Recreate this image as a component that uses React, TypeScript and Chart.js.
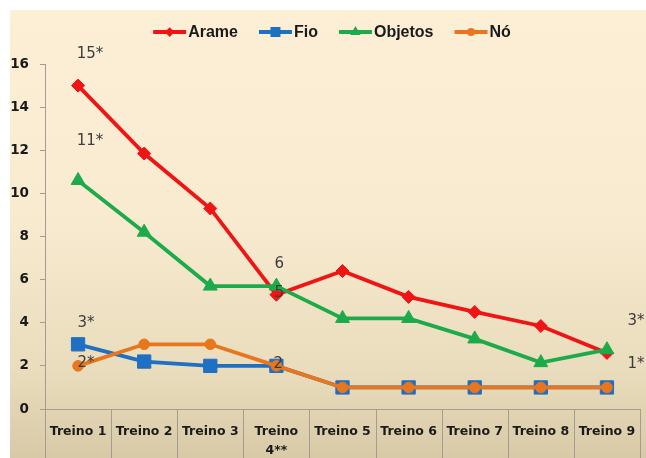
import React, { useEffect, useRef } from "react";
import { Chart, registerables } from "chart.js";

Chart.register(...registerables);

const categories = ["Treino 1", "Treino 2", "Treino 3", "Treino 4**", "Treino 5", "Treino 6", "Treino 7", "Treino 8", "Treino 9"];
const seriesNames = ["Arame", "Fio", "Objetos", "Nó"];
const arame = [15, 11.85, 9.3, 5.3, 6.4, 5.2, 4.5, 3.85, 2.6];
const fio = [3, 2.2, 2, 2, 1, 1, 1, 1, 1];
const objetos = [10.6, 8.2, 5.7, 5.7, 4.2, 4.2, 3.25, 2.15, 2.75];
const no = [2, 3, 3, 2, 1, 1, 1, 1, 1];
const yTicks = [0, 2, 4, 6, 8, 10, 12, 14, 16];

// annotation texts attached to points: [text, seriesIndex, categoryIndex]
const annotationTexts: [string, number, number][] = [
  ["15*", 0, 0],
  ["11*", 2, 0],
  ["3*", 1, 0],
  ["2*", 3, 0],
  ["6", 2, 3],
  ["5", 0, 3],
  ["2", 1, 3],
  ["3*", 2, 8],
  ["1*", 1, 8],
];
// pixel offsets of each annotation from its point (layout only)
const annotationOffsets: [number, number][] = [
  [12, -31],
  [12, -39],
  [8, -21],
  [8, -3],
  [3, -22],
  [3, -2],
  [2, -2],
  [29, -29],
  [29, -23],
];

const colors = ["#F01414", "#1F6FC2", "#1DAA4A", "#E8761E"];
const pointStyles = ["rectRot", "rect", "triangle", "circle"];
const pointRadii = [6.5, 9.4, 8, 5.3];
const drawOrder = [3, 2, 1, 0];

function drawMarker(ctx: CanvasRenderingContext2D, style: string, x: number, y: number, r: number, color: string) {
  ctx.save();
  ctx.fillStyle = color;
  ctx.beginPath();
  if (style === "rectRot") {
    ctx.moveTo(x - r, y);
    ctx.lineTo(x, y - r);
    ctx.lineTo(x + r, y);
    ctx.lineTo(x, y + r);
    ctx.closePath();
  } else if (style === "rect") {
    const s = r * Math.SQRT1_2;
    ctx.rect(x - s, y - s, 2 * s, 2 * s);
  } else if (style === "triangle") {
    ctx.moveTo(x, y - r);
    ctx.lineTo(x + r * 0.866, y + r * 0.5);
    ctx.lineTo(x - r * 0.866, y + r * 0.5);
    ctx.closePath();
  } else {
    ctx.arc(x, y, r, 0, Math.PI * 2);
  }
  ctx.fill();
  ctx.restore();
}

const decorPlugin = {
  id: "decor",
  beforeDraw(chart: any) {
    const { ctx, width, height } = chart;
    ctx.save();
    ctx.fillStyle = "#FFFFFF";
    ctx.fillRect(0, 0, width, height);
    const g = ctx.createLinearGradient(0, 10, 0, height);
    g.addColorStop(0, "#FDEFD6");
    g.addColorStop(0.45, "#F8EBD0");
    g.addColorStop(0.8, "#EADDBD");
    g.addColorStop(1, "#D8CAA7");
    ctx.fillStyle = g;
    ctx.fillRect(10, 10, width - 10, height - 10);
    ctx.restore();
  },
  afterDraw(chart: any) {
    const { ctx, chartArea, height } = chart;
    const xs = chart.scales.x;
    ctx.save();
    ctx.strokeStyle = "#A39D91";
    ctx.lineWidth = 1;
    ctx.beginPath();
    ctx.moveTo(chartArea.left, Math.round(chartArea.bottom) + 0.5);
    ctx.lineTo(chartArea.right, Math.round(chartArea.bottom) + 0.5);
    for (let i = 0; i <= categories.length; i++) {
      const px = Math.round(xs.getPixelForValue(i - 0.5)) + 0.5;
      ctx.moveTo(px, chartArea.bottom);
      ctx.lineTo(px, height);
    }
    ctx.stroke();

    // category labels
    ctx.font = "bold 12.5px 'DejaVu Sans'";
    ctx.fillStyle = "#1A1A1A";
    ctx.textAlign = "center";
    ctx.textBaseline = "middle";
    categories.forEach((c, i) => {
      const px = xs.getPixelForValue(i);
      const lines = c.includes("**") ? c.split(" ") : [c];
      lines.forEach((ln, j) => {
        ctx.fillText(ln, px, chartArea.bottom + 23 + j * 19);
      });
    });

    // annotations
    ctx.font = "15px 'DejaVu Sans'";
    ctx.fillStyle = "#3C3C3C";
    annotationTexts.forEach(([text, ds, idx], k) => {
      const meta = chart.getDatasetMeta(ds);
      const pt = meta.data[idx];
      const [dx, dy] = annotationOffsets[k];
      ctx.fillText(text, pt.x + dx, pt.y + dy);
    });

    // legend
    ctx.font = "bold 16px 'Liberation Sans'";
    ctx.textAlign = "left";
    const lineLen = 33;
    const gapText = 2;
    const gapItem = 21;
    const widths = seriesNames.map((n) => ctx.measureText(n).width);
    let total = 0;
    widths.forEach((w, i) => {
      total += lineLen + gapText + w + (i < widths.length - 1 ? gapItem : 0);
    });
    let x = 332 - total / 2;
    const y = 32;
    seriesNames.forEach((n, i) => {
      ctx.strokeStyle = colors[i];
      ctx.lineWidth = 3.8;
      ctx.beginPath();
      ctx.moveTo(x, y);
      ctx.lineTo(x + lineLen, y);
      ctx.stroke();
      drawMarker(ctx, pointStyles[i], x + lineLen / 2, y, pointRadii[i] * 0.75, colors[i]);
      ctx.fillStyle = "#1A1A1A";
      ctx.fillText(n, x + lineLen + gapText, y + 1);
      x += lineLen + gapText + widths[i] + gapItem;
    });
    ctx.restore();
  },
};

export default function App() {
  const ref = useRef<HTMLCanvasElement | null>(null);
  useEffect(() => {
    if (!ref.current) return;
    const values = [arame, fio, objetos, no];
    const chart = new Chart(ref.current, {
      type: "line",
      data: {
        labels: categories,
        datasets: values.map((v, i) => ({
          label: seriesNames[i],
          data: v,
          borderColor: colors[i],
          backgroundColor: colors[i],
          borderWidth: 3.8,
          pointStyle: pointStyles[i] as any,
          pointRadius: pointRadii[i],
          pointBackgroundColor: colors[i],
          pointBorderColor: colors[i],
          pointBorderWidth: 1,
          tension: 0,
          fill: false,
          clip: false,
          order: drawOrder[i],
        })),
      },
      options: {
        responsive: false,
        animation: false,
        layout: { autoPadding: false, padding: { top: 64, right: 6, left: 0, bottom: 0 } },
        plugins: { legend: { display: false }, tooltip: { enabled: false } },
        scales: {
          x: {
            type: "category",
            offset: true,
            grid: { display: false },
            border: { display: false },
            ticks: { display: false },
            afterFit: (s: any) => {
              s.height = 49;
            },
          },
          y: {
            min: 0,
            max: 16,
            afterBuildTicks: (s: any) => {
              s.ticks = yTicks.map((v) => ({ value: v }));
            },
            grid: { drawOnChartArea: false, drawTicks: true, tickLength: 5, color: "#A39D91" },
            border: { display: true, color: "#A39D91" },
            ticks: {
              padding: 11,
              color: "#1A1A1A",
              font: { family: "'DejaVu Sans'", size: 13.5, weight: "bold" },
            },
            afterFit: (s: any) => {
              s.width = 45;
            },
          },
        },
      },
      plugins: [decorPlugin],
    });
    return () => chart.destroy();
  }, []);
  return (
    <div style={{ position: "fixed", left: 0, top: 0, width: 646, height: 458 }}>
      <canvas ref={ref} width={646} height={458} style={{ display: "block", width: 646, height: 458 }} />
    </div>
  );
}
